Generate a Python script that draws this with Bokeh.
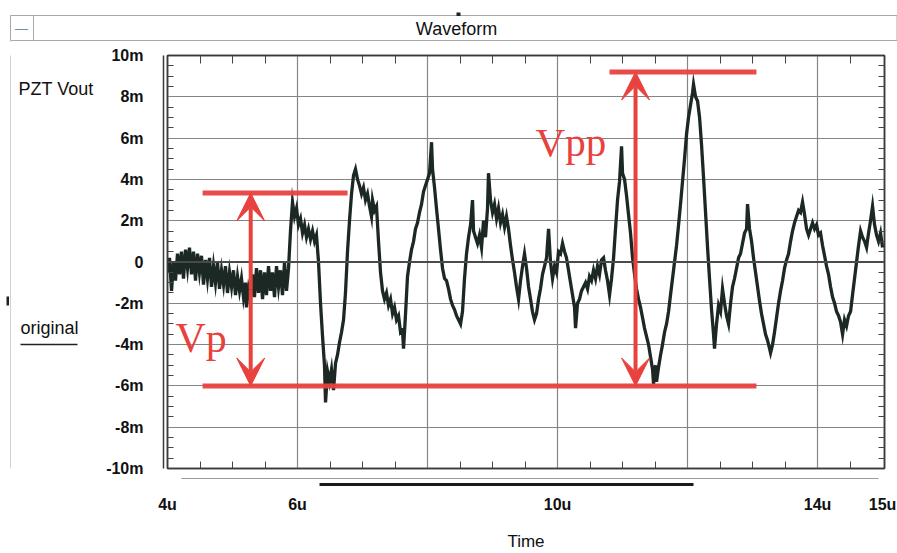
from bokeh.plotting import figure
from bokeh.models import (Range1d, FixedTicker, LinearAxis, Span, Label, Arrow,
                          VeeHead, CustomJSTickFormatter)
from bokeh.layouts import column, row
from bokeh.embed import file_html
from bokeh.resources import INLINE

# ---------------- data ----------------
time_us = [
    4.000, 4.031, 4.062, 4.092, 4.123, 4.154, 4.185, 4.215, 4.246, 4.277,
    4.308, 4.338, 4.369, 4.400, 4.431, 4.462, 4.492, 4.523, 4.554, 4.585,
    4.615, 4.646, 4.677, 4.708, 4.738, 4.769, 4.800, 4.831, 4.862, 4.892,
    4.923, 4.954, 4.985, 5.015, 5.046, 5.077, 5.108, 5.138, 5.169, 5.200,
    5.215, 5.246, 5.277, 5.308, 5.338, 5.369, 5.400, 5.431, 5.462, 5.492,
    5.523, 5.554, 5.585, 5.615, 5.646, 5.677, 5.708, 5.738, 5.769, 5.800,
    5.831, 5.862,
    5.892, 5.923, 5.954, 5.985, 6.015, 6.046, 6.077, 6.108, 6.138, 6.169,
    6.200, 6.231, 6.262, 6.292, 6.323, 6.354, 6.385, 6.415, 6.431, 6.462,
    6.492, 6.523, 6.554, 6.585, 6.615, 6.646, 6.677, 6.708, 6.738, 6.769,
    6.800, 6.831, 6.862, 6.892, 6.923, 6.954, 6.985, 7.015, 7.046, 7.077,
    7.108, 7.138, 7.154, 7.185, 7.215, 7.246, 7.277, 7.308, 7.338, 7.369,
    7.400, 7.431, 7.462, 7.492, 7.523, 7.554, 7.585, 7.615, 7.631, 7.662,
    7.692, 7.723, 7.754, 7.785, 7.815, 7.846, 7.877, 7.908, 7.938, 7.969,
    8.000, 8.031, 8.062, 8.077, 8.108, 8.138, 8.169, 8.200, 8.231, 8.262,
    8.292, 8.323, 8.354, 8.385, 8.415, 8.446, 8.477, 8.508, 8.538, 8.569,
    8.600, 8.631, 8.662, 8.692, 8.708, 8.738, 8.769, 8.800, 8.831, 8.862,
    8.892, 8.923, 8.938, 8.969, 9.000, 9.031, 9.062, 9.092, 9.123, 9.154,
    9.185, 9.215, 9.246, 9.277, 9.308, 9.338, 9.369, 9.400, 9.431, 9.462,
    9.492, 9.523, 9.554, 9.585, 9.615, 9.646, 9.677, 9.708, 9.738, 9.769,
    9.800, 9.831, 9.862, 9.892, 9.923, 9.954, 9.985, 10.015, 10.046, 10.077,
    10.108, 10.138, 10.169, 10.200, 10.231, 10.262, 10.277, 10.308, 10.338, 10.369,
    10.400, 10.431, 10.462, 10.492, 10.523, 10.554, 10.585, 10.615, 10.646, 10.677,
    10.708, 10.738, 10.769, 10.800, 10.831, 10.862, 10.892, 10.923, 10.954, 10.985,
    11.000, 11.031, 11.062, 11.092, 11.123, 11.154, 11.185, 11.215, 11.246, 11.277,
    11.308, 11.338, 11.369, 11.400, 11.431, 11.462, 11.477, 11.508, 11.523, 11.554,
    11.585, 11.615, 11.646, 11.677, 11.708, 11.738, 11.769, 11.800, 11.831, 11.862,
    11.892, 11.923, 11.954, 11.985, 12.015, 12.046, 12.077, 12.092, 12.123, 12.154,
    12.185, 12.215, 12.246, 12.277, 12.308, 12.338, 12.369, 12.400, 12.415, 12.446,
    12.477, 12.508, 12.538, 12.569, 12.600, 12.631, 12.662, 12.692, 12.723, 12.754,
    12.785, 12.815, 12.846, 12.877, 12.908, 12.923, 12.954, 12.985, 13.015, 13.046,
    13.077, 13.108, 13.138, 13.169, 13.200, 13.231, 13.262, 13.277, 13.308, 13.338,
    13.369, 13.400, 13.431, 13.462, 13.492, 13.523, 13.554, 13.585, 13.615, 13.646,
    13.677, 13.708, 13.738, 13.769, 13.800, 13.831, 13.862, 13.892, 13.923, 13.954,
    13.985, 14.015, 14.046, 14.077, 14.108, 14.138, 14.169, 14.200, 14.231, 14.262,
    14.292, 14.323, 14.354, 14.385, 14.415, 14.446, 14.477, 14.508, 14.538, 14.569,
    14.600, 14.631, 14.662, 14.692, 14.723, 14.754, 14.785, 14.815, 14.846, 14.877,
    14.908, 14.938, 14.969, 15.000,
]

vout_mV = [
    -0.5, 0.2, -1.4, 0.0, -0.9, 0.4, -0.6, 0.5, -0.8, 0.6,
    -0.3, 0.7, -0.6, 0.5, -0.9, 0.4, -0.5, 0.3, -1.1, 0.1,
    -0.8, 0.2, -1.2, -0.2, -1.0, 0.0, -1.3, -0.4, -1.1, -0.2,
    -1.5, -0.5, -1.2, -0.4, -1.6, -0.7, -1.4, -0.8, -1.7, -1.0,
    -2.2, -1.3, -1.8, -0.6, -1.7, -0.3, -1.5, -0.4, -1.8, -0.5,
    -1.6, -0.2, -1.4, -0.5, -1.7, -0.2, -1.2, -0.4, -1.6, 0.0,
    -1.4, -0.3,
    1.5, 2.9, 2.2, 2.6, 1.8, 2.1, 1.4, 1.8, 1.2, 1.6,
    1.1, 1.5, 1.0, 1.3, 0.0, -2.0, -3.6, -5.0, -6.8, -5.3,
    -5.8, -5.2, -6.2, -4.9, -4.5, -3.9, -3.4, -2.8, -1.5, 0.5,
    2.0, 3.3, 4.2, 4.5, 4.0, 3.7, 3.3, 3.6, 3.0, 3.3,
    2.7, 2.2, 3.0, 2.5, 2.7, 1.0, -0.5, -1.4, -1.8, -1.5,
    -2.1, -1.8, -2.5, -2.2, -2.8, -2.6, -3.4, -3.3, -4.2, -2.5,
    -0.7, 0.0, 0.6, 1.0, 1.6, 1.9, 2.4, 2.8, 3.4, 3.7,
    4.0, 4.3, 5.8, 4.5, 3.6, 2.6, 1.6, 0.6, -0.3, -0.8,
    -0.9, -1.3, -1.8, -2.1, -2.3, -2.6, -2.8, -3.0, -2.4, -0.8,
    0.4, 1.2, 1.8, 3.0, 1.5, 1.2, 0.9, 1.3, 0.7, 2.0,
    1.2, 2.6, 4.3, 3.0, 2.4, 2.8, 2.1, 2.6, 1.9, 2.3,
    1.7, 2.2, 1.6, 0.8, 0.1, -0.5, -1.2, -1.8, -0.9, -0.2,
    0.4, -0.3, -1.2, -1.8, -2.4, -2.8, -2.5, -1.8, -1.3, -0.6,
    -0.2, 0.2, 1.6, 0.0, -0.8, -0.2, -0.5, 0.5, 0.4, 0.9,
    0.5, 0.2, -0.4, -1.0, -1.6, -2.2, -3.2, -2.0, -1.8, -1.4,
    -1.2, -1.0, -1.3, -0.7, -0.9, -0.4, -0.8, -0.2, -0.6, 0.1,
    0.2, -0.4, -0.9, -1.6, -0.8, 0.2, 1.6, 3.0, 3.9, 5.6,
    4.3, 4.0, 3.2, 2.3, 1.4, 0.2, -0.6, -1.3, -1.8, -2.2,
    -2.7, -3.2, -3.6, -4.0, -4.6, -5.2, -5.9, -5.0, -5.8, -5.1,
    -4.5, -4.0, -3.4, -3.0, -2.4, -1.6, -0.8, 0.0, 0.8, 1.8,
    2.8, 3.9, 5.0, 6.2, 7.0, 7.6, 8.2, 8.6, 8.0, 7.8,
    7.0, 5.7, 4.1, 2.4, 0.7, -0.8, -2.3, -3.5, -4.2, -3.0,
    -2.1, -2.4, -1.3, -2.0, -2.6, -3.0, -2.0, -1.2, -0.8, -0.3,
    0.2, 0.4, 0.9, 1.4, 1.6, 2.8, 1.6, 1.0, 0.2, -0.5,
    -1.2, -1.9, -2.5, -3.0, -3.5, -3.8, -4.2, -4.4, -4.0, -3.4,
    -2.7, -2.0, -1.4, -0.9, -0.3, 0.1, 0.4, 1.0, 1.5, 1.9,
    2.2, 2.5, 2.4, 2.9, 2.3, 1.6, 1.3, 1.6, 1.9, 1.6,
    1.8, 1.3, 1.4, 0.8, 0.3, -0.2, -0.6, -1.2, -1.7, -2.0,
    -2.4, -2.6, -2.9, -3.5, -2.8, -3.1, -2.6, -2.4, -1.6, -0.8,
    0.0, 0.8, 1.5, 1.2, 1.0, 0.7, 1.4, 2.0, 2.7, 1.8,
    1.3, 1.0, 1.4, 0.7,
]

x_label_ticks = [4, 6, 10, 14, 15]
x_grid_ticks = [6, 8, 10, 12, 14]
x_minor_ticks = [4.5, 5, 5.5, 6.5, 7, 7.5, 8.5, 9, 9.5, 10.5, 11, 11.5,
                 12.5, 13, 13.5, 14.5]
y_label_ticks = [-10, -8, -6, -4, -2, 0, 2, 4, 6, 8, 10]
y_grid_ticks = [-8, -6, -4, -2, 2, 4, 6, 8]
y_minor_ticks = [v / 2 for v in range(-19, 20) if v % 4 != 0]

# annotation levels (mV) and times (us)
vp_top, vp_bottom, vpp_top = 3.34, -6.0, 9.2
vp_line_t0, vp_line_t1 = 4.54, 6.77
bottom_line_t1 = 13.06
vpp_line_t0 = 10.80
vp_arrow_t, vpp_arrow_t = 5.28, 11.20
scroll_track = (4.215, 14.938)
scroll_thumb = (6.338, 12.092)

RED = "#e8413e"
TRACE = "#1c2823"
FONT = "Liberation Sans"
FRAME = "#3a3a3a"

TOP_H = 42
LEFT_W = 100


def blank_fig(w, h, x0, x1, y0, y1):
    f = figure(width=w, height=h, x_range=Range1d(x0, x1),
               y_range=Range1d(y0, y1), output_backend="svg",
               toolbar_location=None, title=None,
               x_axis_location=None, y_axis_location=None,
               min_border=0, min_border_left=0, min_border_right=0,
               min_border_top=0, min_border_bottom=0,
               background_fill_color="white", border_fill_color="white")
    f.outline_line_color = None
    f.grid.visible = False
    return f


# ---------- window title bar (pixel space of the page) ----------
bar = blank_fig(897, TOP_H, 0, 897, TOP_H, 0)
bar.quad(left=[10], right=[896.5], top=[15], bottom=[40], fill_alpha=0,
         line_color="#a8a8a8", line_width=1)
bar.segment(x0=[33], y0=[15], x1=[33], y1=[40], line_color="#a8a8a8")
bar.segment(x0=[10], y0=[40], x1=[10], y1=[TOP_H], line_color="#d2d2d2")
bar.quad(left=[456], right=[460], top=[12], bottom=[15.5], fill_color="#222",
         line_alpha=0)
bar.add_layout(Label(x=21, y=28, text="\u2014", text_font=FONT,
                     text_font_size="13px", text_align="center",
                     text_baseline="middle", text_color="#7a88a8"))
bar.add_layout(Label(x=456, y=28.5, text="Waveform", text_font=FONT,
                     text_font_size="18px", text_align="center",
                     text_baseline="middle", text_color="#111"))

# ---------- left strip with trace name (its frame is aligned with the plot's) ----------
side = blank_fig(LEFT_W, 553 - TOP_H, 0, LEFT_W, 468, 55)
side.segment(x0=[10], y0=[40], x1=[10], y1=[553], line_color="#d2d2d2")
side.quad(left=[6], right=[8.5], top=[296], bottom=[305], fill_color="#222",
          line_alpha=0)
side.segment(x0=[20], y0=[344], x1=[77], y1=[344], line_color="#222",
             line_width=1.3)
side.add_layout(Label(x=18, y=88, text="PZT Vout", text_font=FONT,
                      text_font_size="18px", text_baseline="middle",
                      text_color="#111"))
side.add_layout(Label(x=20, y=327, text="original", text_font=FONT,
                      text_font_size="18px", text_baseline="middle",
                      text_color="#111"))

# ---------- main waveform plot ----------
p = figure(width=897 - LEFT_W, height=553 - TOP_H, x_range=Range1d(4, 15.03),
           y_range=Range1d(-10, 10), output_backend="svg", title=None,
           toolbar_location=None, min_border_left=167 - LEFT_W,
           min_border_right=13, min_border_top=55 - TOP_H,
           min_border_bottom=85,
           background_fill_color="white", border_fill_color="white")
p.outline_line_color = FRAME
p.outline_line_width = 1.5

p.xgrid.ticker = FixedTicker(ticks=x_grid_ticks)
p.ygrid.ticker = FixedTicker(ticks=y_grid_ticks)
p.grid.grid_line_color = "#858585"
p.grid.grid_line_width = 1.2
p.add_layout(Span(location=0, dimension="width", line_color="#4a4a4a",
                  line_width=2.2))


def spacer_axis(ax, minor, tick_in, size, dummy, line_color=FRAME, line_width=1.5):
    ax.ticker = FixedTicker(ticks=[dummy] if size else [], minor_ticks=minor)
    ax.major_label_text_font_size = "0px"
    ax.major_label_text_color = None
    ax.major_label_standoff = 0
    ax.major_tick_in = 0
    ax.major_tick_out = size
    ax.major_tick_line_color = None
    ax.minor_tick_in = tick_in
    ax.minor_tick_out = 0
    ax.minor_tick_line_color = "#444"
    ax.axis_line_color = line_color
    ax.axis_line_width = line_width


def style_labels(ax, standoff):
    ax.major_tick_in = 0
    ax.major_tick_out = 0
    ax.minor_tick_in = 0
    ax.minor_tick_out = 0
    ax.major_label_standoff = standoff
    ax.major_label_text_font = FONT
    ax.major_label_text_font_style = "bold"
    ax.major_label_text_font_size = "16px"
    ax.major_label_text_color = "#111"


# bottom: inward minor ticks, scrollbar track + thumb, labels
spacer_axis(p.xaxis[0], x_minor_ticks, 7, 10, 4.0)
track = LinearAxis(bounds=scroll_track)
spacer_axis(track, [], 0, 6, 4.5, line_color="#9a9a9a", line_width=1)
p.add_layout(track, "below")
thumb = LinearAxis(bounds=scroll_thumb)
spacer_axis(thumb, [], 0, 0, 4.0, line_color="#1a1a1a", line_width=3)
p.add_layout(thumb, "below")
xlab = LinearAxis(ticker=FixedTicker(ticks=x_label_ticks),
                  formatter=CustomJSTickFormatter(code="return tick + 'u';"))
style_labels(xlab, 11)
xlab.axis_line_color = None
xlab.axis_label = "Time"
xlab.axis_label_standoff = 16
xlab.axis_label_text_font = FONT
xlab.axis_label_text_font_style = "normal"
xlab.axis_label_text_font_size = "17px"
xlab.axis_label_text_color = "#111"
p.add_layout(xlab, "below")

# left: inward minor ticks, second frame line carrying the labels
spacer_axis(p.yaxis[0], y_minor_ticks, 6, 4, 0.0)
ylab = LinearAxis(ticker=FixedTicker(ticks=y_label_ticks),
                  formatter=CustomJSTickFormatter(
                      code="return tick == 0 ? '0' : tick + 'm';"))
style_labels(ylab, 20)
ylab.axis_line_color = FRAME
ylab.axis_line_width = 1.5
p.add_layout(ylab, "left")

# top / right: inward minor ticks
top = LinearAxis()
spacer_axis(top, x_minor_ticks, 8, 0, 4.0)
p.add_layout(top, "above")
right = LinearAxis()
spacer_axis(right, y_minor_ticks, 6, 0, 0.0)
p.add_layout(right, "right")

# waveform
p.line(time_us, vout_mV, line_color=TRACE, line_width=3.3, line_join="miter")

# red measurement lines
p.segment(x0=[vp_line_t0, vp_line_t0, vpp_line_t0],
          y0=[vp_top, vp_bottom, vpp_top],
          x1=[vp_line_t1, bottom_line_t1, bottom_line_t1],
          y1=[vp_top, vp_bottom, vpp_top],
          line_color=RED, line_width=5, line_alpha=0.95)
for t, y0, y1 in [(vp_arrow_t, vp_top, vp_bottom), (vpp_arrow_t, vpp_top, vp_bottom)]:
    for y_end in (y0, y1):
        p.add_layout(Arrow(x_start=t, y_start=(y0 + y1) / 2, x_end=t, y_end=y_end,
                           line_color=RED, line_width=4,
                           end=VeeHead(size=28, fill_color=RED, line_color=RED)))

p.add_layout(Label(x=4.123, y=-3.66, text="Vp", text_font="Liberation Serif",
                   text_font_size="42px", text_color=RED,
                   text_baseline="alphabetic"))
p.add_layout(Label(x=9.662, y=5.79, text="Vpp", text_font="Liberation Serif",
                   text_font_size="41px", text_color=RED,
                   text_baseline="alphabetic"))

layout = column(bar, row(side, p, spacing=0), spacing=0)
open("out.html", "w").write(file_html(layout, INLINE))
